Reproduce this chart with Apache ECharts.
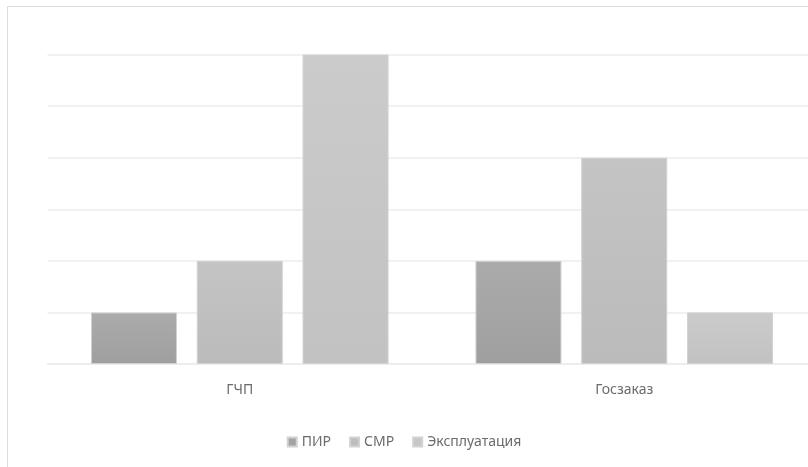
<!DOCTYPE html>
<html><head><meta charset="utf-8">
<script src="https://cdn.jsdelivr.net/npm/echarts@6/dist/echarts.min.js"></script>
<style>html,body{margin:0;padding:0;background:#fff}#c{width:808px;height:467px}</style>
</head><body><div id="c"></div>
<script>
var categories = ['ГЧП', 'Госзаказ'];
var seriesNames = ['ПИР', 'СМР', 'Эксплуатация'];
var pir = [1, 2];
var smr = [2, 4];
var expl = [6, 1];

function grad(top, bottom) {
  return new echarts.graphic.LinearGradient(0, 0, 0, 1, [
    {offset: 0, color: top}, {offset: 1, color: bottom}
  ]);
}
var colors = [grad('#ababab', '#9f9f9f'), grad('#c4c4c4', '#bbbbbb'), grad('#cbcbcb', '#c2c2c2')];
var legendColors = ['#a3a3a3', '#bdbdbd', '#c6c6c6'];
var font = '"Noto Sans", "Open Sans", sans-serif';

var chart = echarts.init(document.getElementById('c'), null, {renderer: 'canvas'});
var dataArr = [pir, smr, expl];
chart.setOption({
  animation: false,
  backgroundColor: '#fff',
  graphic: [{
    type: 'rect', left: 5, top: 4, silent: true, z: -1,
    shape: {x: 0, y: 0, width: 900, height: 600},
    style: {fill: 'none', stroke: '#dcdcdc', lineWidth: 1}
  }],
  grid: {left: 47.5, width: 769, top: 54.5, height: 309.5, containLabel: false, outerBoundsMode: 'none'},
  xAxis: {
    type: 'category', data: categories,
    axisLine: {show: true, lineStyle: {color: '#ececec', width: 1.5}},
    axisTick: {show: false},
    axisLabel: {margin: 19, color: '#6b6b6b', fontSize: 14, fontFamily: font}
  },
  yAxis: {
    type: 'value', min: 0, max: 6, interval: 1,
    axisLabel: {show: false}, axisLine: {show: false}, axisTick: {show: false},
    splitLine: {lineStyle: {color: '#ececec', width: 1.5}}
  },
  legend: {
    bottom: 13, left: 'center', itemWidth: 9, itemHeight: 9, itemGap: 18,
    icon: 'rect',
    textStyle: {color: '#6b6b6b', fontSize: 14, fontFamily: font},
    data: seriesNames.map(function (n, i) { return {name: n, itemStyle: {color: legendColors[i]}}; })
  },
  series: seriesNames.map(function (n, i) {
    return {
      name: n, type: 'bar', data: dataArr[i],
      barGap: '23%', barCategoryGap: '22.6%',
      itemStyle: {color: colors[i], borderColor: '#d2d2d2', borderWidth: 1}
    };
  })
});
</script></body></html>
